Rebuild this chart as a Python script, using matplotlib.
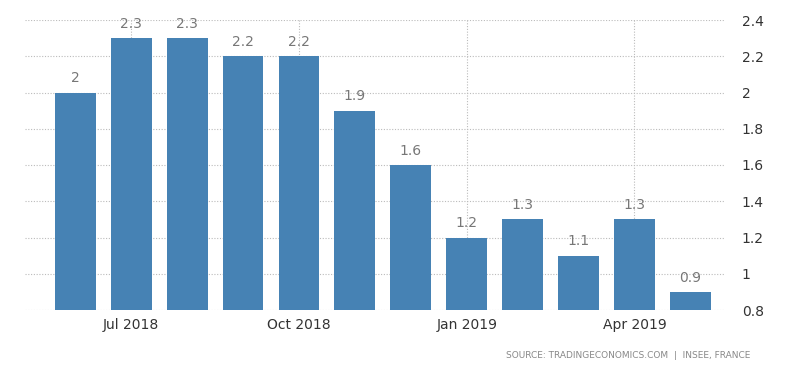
"""
Bar chart of France monthly inflation rate (Jun 2018 - May 2019).
"""
import matplotlib
matplotlib.use("Agg")
import matplotlib.pyplot as plt

months = ["Jun 2018", "Jul 2018", "Aug 2018", "Sep 2018", "Oct 2018", "Nov 2018",
          "Dec 2018", "Jan 2019", "Feb 2019", "Mar 2019", "Apr 2019", "May 2019"]
values = [2.0, 2.3, 2.3, 2.2, 2.2, 1.9, 1.6, 1.2, 1.3, 1.1, 1.3, 0.9]
value_labels = ["2", "2.3", "2.3", "2.2", "2.2", "1.9", "1.6", "1.2", "1.3", "1.1", "1.3", "0.9"]
tick_months = ["Jul 2018", "Oct 2018", "Jan 2019", "Apr 2019"]
y_ticks = [0.8, 1.0, 1.2, 1.4, 1.6, 1.8, 2.0, 2.2, 2.4]
y_tick_labels = ["0.8", "1", "1.2", "1.4", "1.6", "1.8", "2", "2.2", "2.4"]

fig = plt.figure(figsize=(8, 3.73), dpi=100)
ax = fig.add_axes([25 / 800, 63 / 373, 700 / 800, 290 / 373])

x = list(range(len(months)))
ax.bar(x, values, width=0.73, color="#4682b4", zorder=2)

for xi, v, lab in zip(x, values, value_labels):
    ax.text(xi, v + 0.04, lab, ha="center", va="bottom", fontsize=10, color="#777777")

ax.set_ylim(0.8, 2.4)
ax.set_xlim(-0.9, 11.62)
ax.yaxis.tick_right()
ax.set_yticks(y_ticks)
ax.set_yticklabels(y_tick_labels)
tick_pos = [months.index(m) for m in tick_months]
ax.set_xticks(tick_pos)
ax.set_xticklabels(tick_months)
ax.tick_params(axis="both", length=0, labelsize=10, colors="#333333")
ax.tick_params(axis="y", pad=12)
ax.tick_params(axis="x", pad=6)

ax.grid(True, color="#bbbbbb", linestyle=(0, (1, 1.5)), linewidth=0.8, zorder=0)
for s in ax.spines.values():
    s.set_visible(False)

fig.text(750 / 800, 1 - 356 / 373, "SOURCE: TRADINGECONOMICS.COM  |  INSEE, FRANCE",
         ha="right", va="center", fontsize=6.5, color="#888888")

fig.savefig("out.png", dpi=100)
